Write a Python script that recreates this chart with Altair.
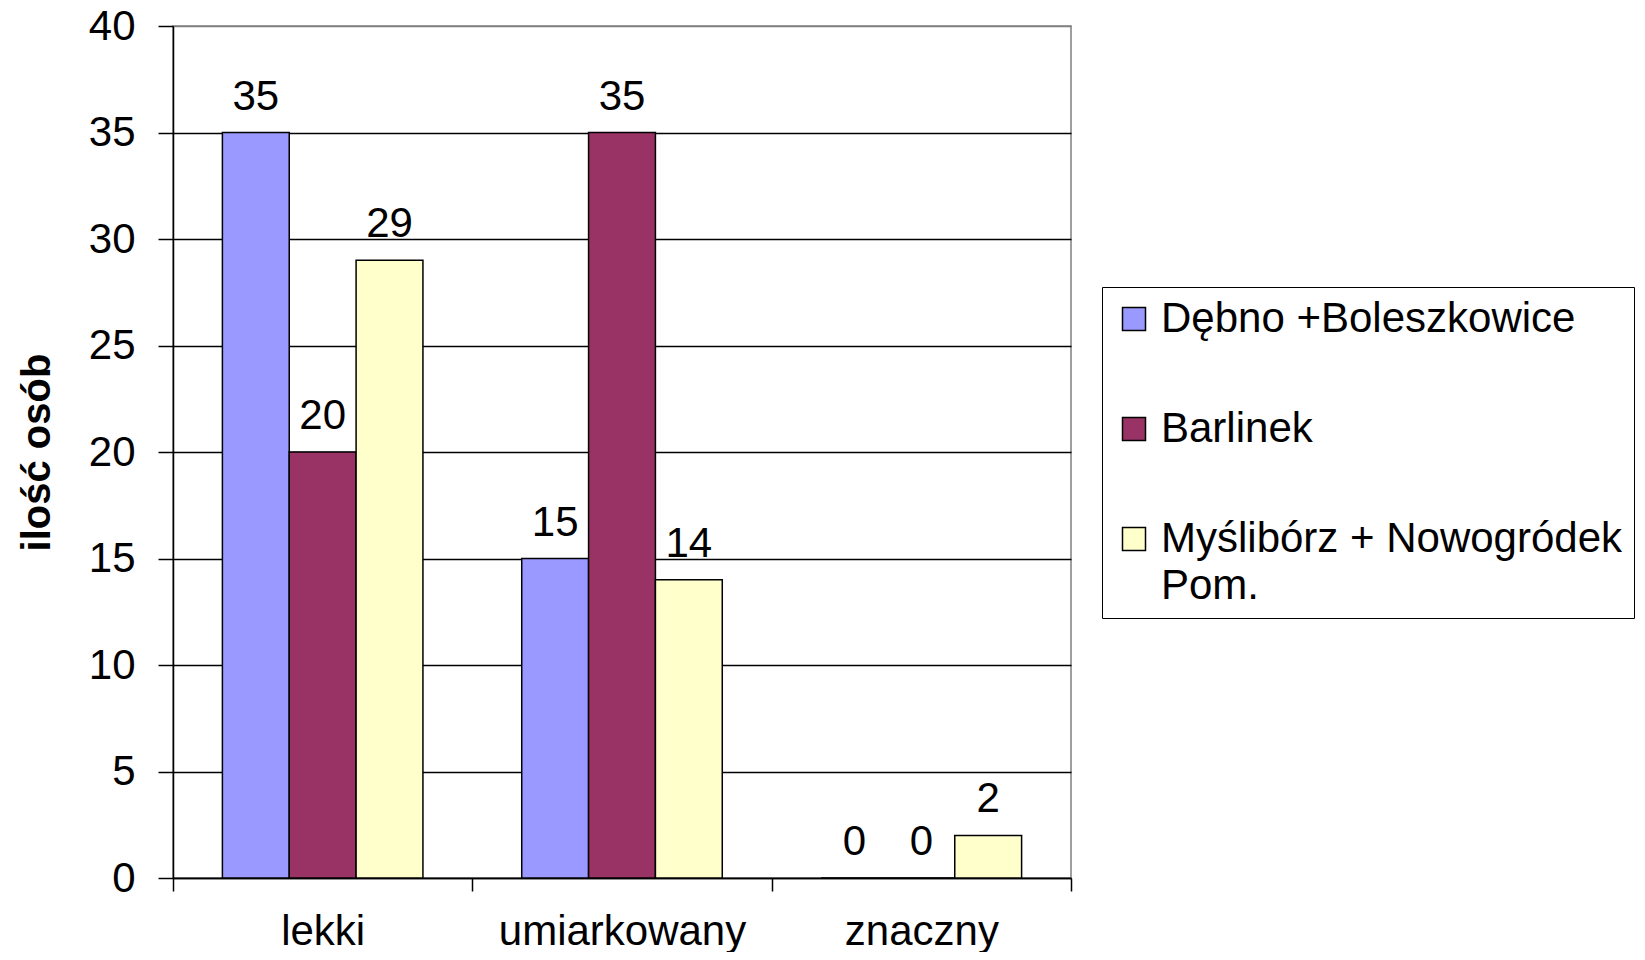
import altair as alt
import pandas as pd

categories = ["lekki", "umiarkowany", "znaczny"]
series = ["Dębno +Boleszkowice", "Barlinek", "Myślibórz + Nowogródek Pom."]
debno = [35, 15, 0]
barlinek = [20, 35, 0]
mysliborz = [29, 14, 2]
colors = ["#9999FF", "#993366", "#FFFFCC"]
y_ticks = [0, 5, 10, 15, 20, 25, 30, 35, 40]

rows = []
for s, vals in zip(series, [debno, barlinek, mysliborz]):
    for c, v in zip(categories, vals):
        rows.append({"kategoria": c, "seria": s, "wartosc": v})
df = pd.DataFrame(rows)

FONT = "Liberation Sans"
FS = 42

x = alt.X("kategoria:N", sort=categories, title=None,
          scale=alt.Scale(paddingInner=0, paddingOuter=0),
          axis=alt.Axis(labelAngle=0, labelFontSize=FS, labelColor="black",
                        labelFont=FONT, labelLimit=1000, tickBand="extent", tickSize=13,
                        tickColor="black", tickWidth=1.5, domainColor="black",
                        domainWidth=1.5, labelPadding=20, grid=False))
xo = alt.XOffset("seria:N", sort=series,
                 scale=alt.Scale(paddingInner=0, paddingOuter=0.739))
y = alt.Y("wartosc:Q", title="ilość osób",
          scale=alt.Scale(domain=[0, 40], nice=False),
          axis=alt.Axis(values=y_ticks, labelFontSize=FS, labelColor="black",
                        labelFont=FONT, tickSize=15, tickColor="black",
                        tickWidth=1.5, domainColor="black", domainWidth=1.5,
                        labelPadding=23, grid=True,
                        gridColor={"condition": {"test": "datum.value == 40", "value": "#808080"},
                                   "value": "black"},
                        gridWidth=1.5, titleFontSize=40, titleFont=FONT,
                        titleFontWeight="bold", titleColor="black",
                        titleAngle=270, titleX=-136, titleY=426,
                        titleBaseline="middle", titleAlign="center"))

color = alt.Color("seria:N", sort=series,
                  scale=alt.Scale(domain=series, range=colors),
                  legend=alt.Legend(title=None, orient="none", legendX=929, legendY=261,
                                    labelFontSize=FS, labelFont=FONT, labelColor="black",
                                    labelLimit=1000, symbolType="square", symbolSize=529,
                                    symbolStrokeColor="black", symbolStrokeWidth=1.5,
                                    labelOffset=6, rowPadding=68, padding=11,
                                    strokeColor="black", fillColor="white",
                                    labelExpr="datum.label == 'Myślibórz + Nowogródek Pom.' ? ['Myślibórz + Nowogródek', 'Pom.'] : datum.label"))

bars = alt.Chart(df).mark_bar(stroke="black", strokeWidth=1.5).encode(
    x=x, xOffset=xo, y=y, color=color)

labels = alt.Chart(df).mark_text(dy=-23, baseline="alphabetic", fontSize=FS,
                                 font=FONT, color="black").encode(
    x=alt.X("kategoria:N", sort=categories),
    xOffset=alt.XOffset("seria:N", sort=series),
    y=alt.Y("wartosc:Q"),
    text=alt.Text("wartosc:Q"))

chart = alt.layer(bars, labels).properties(
    width=898, height=852,
    autosize=alt.AutoSizeParams(type="none"),
    padding={"left": 165, "top": 18, "right": 566, "bottom": 74},
).configure(style={"guide-label": {"lineHeight": 47}}
).configure_view(stroke="#808080", strokeWidth=1.5)

chart.save("out.html", embed_options={"renderer": "svg", "actions": False})
